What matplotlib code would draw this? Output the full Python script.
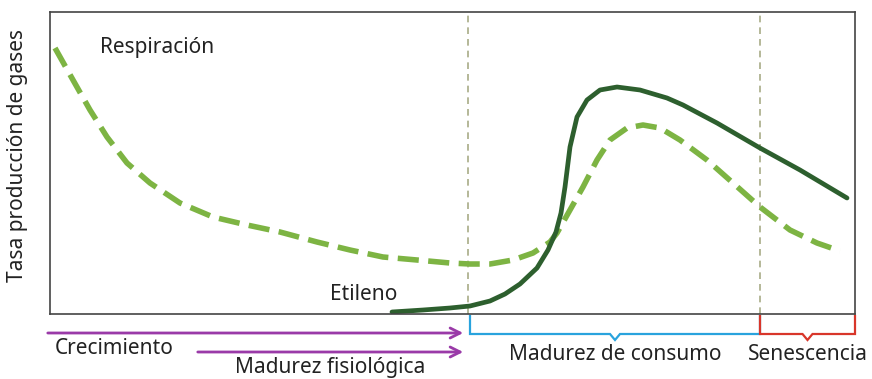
import matplotlib.pyplot as plt

plt.rcParams['font.family'] = ['Noto Sans', 'DejaVu Sans']

# curves (x: time, y: gas production rate, arbitrary units)
resp_x = [5, 23, 40, 57, 77, 100, 130, 163, 197, 230, 267, 300, 333, 367, 400, 420, 440,
          463, 483, 500, 507, 520, 533, 547, 560, 577, 593, 610, 630, 657, 683, 710, 740, 767, 790]
resp_y = [266, 234, 204, 177, 151, 131, 111, 97, 89, 82, 72, 64, 57, 54, 51, 50, 50,
          54, 61, 72, 81, 104, 127, 154, 174, 186, 189, 186, 174, 154, 131, 107, 84, 71, 63]

eti_x = [342, 373, 400, 420, 440, 455, 470, 487, 498, 506, 511, 515, 520, 527, 537, 550,
         567, 590, 617, 633, 667, 710, 750, 797]
eti_y = [2, 4, 6, 8, 13, 20, 30, 46, 64, 82, 101, 127, 167, 197, 214, 224,
         227, 224, 216, 209, 191, 166, 144, 116]

stage_lines = [418, 710]
x_max, y_max = 805, 302

fig = plt.figure(figsize=(8.72, 3.79), dpi=100)
ax = fig.add_axes([50 / 872, 65 / 379, 805 / 872, 302 / 379])
ax.set_xlim(0, x_max)
ax.set_ylim(0, y_max)
ax.set_xticks([])
ax.set_yticks([])
for s in ax.spines.values():
    s.set_color('#444444')
    s.set_linewidth(1.2)

for xv in stage_lines:
    ax.axvline(xv, color='#a8ab86', lw=1.2, ls=(0, (4, 3)))

ax.plot(resp_x, resp_y, color='#7db443', lw=4, ls=(0, (3.8, 1.7)),
        dash_capstyle='butt', dash_joinstyle='round')
ax.plot(eti_x, eti_y, color='#2d5f2e', lw=3.4, solid_capstyle='round', solid_joinstyle='round')

txt = dict(fontsize=15, color='#222222', va='center', clip_on=False)
ax.text(50, 267, 'Respiración', **txt)
ax.text(280, 19, 'Etileno', **txt)
fig.text(18 / 872, 1 - 156 / 379, 'Tasa producción de gases', rotation=90,
         ha='center', va='center', fontsize=15, color='#222222')

# stage arrows
purple = '#9a3aa8'
ax.annotate('', xy=(416, -19), xytext=(-5, -19),
            arrowprops=dict(arrowstyle='->', color=purple, lw=2, mutation_scale=18),
            annotation_clip=False)
ax.annotate('', xy=(416, -38), xytext=(145, -38),
            arrowprops=dict(arrowstyle='->', color=purple, lw=2, mutation_scale=18),
            annotation_clip=False)
ax.text(5, -34, 'Crecimiento', **txt)
ax.text(185, -54, 'Madurez fisiológica', **txt)


def bracket(x0, x1, color):
    xm = (x0 + x1) / 2
    ax.plot([x0, x0, xm - 5, xm, xm + 5, x1, x1], [-2, -20, -20, -26, -20, -20, -2],
            color=color, lw=1.6, clip_on=False, solid_joinstyle='miter')


bracket(420, 710, '#29a3dd')
bracket(710, 805, '#d8362a')
ax.text(565, -41, 'Madurez de consumo', ha='center', **{k: v for k, v in txt.items() if k != 'ha'})
ax.text(758, -41, 'Senescencia', ha='center', **txt)

fig.savefig('out.png', dpi=100)
